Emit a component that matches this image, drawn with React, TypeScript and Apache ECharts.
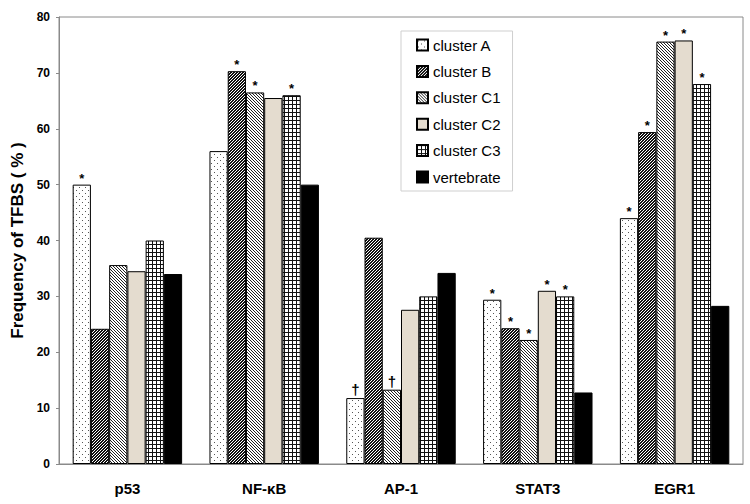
import React, { useEffect, useRef } from "react";
import * as echarts from "echarts";

const categories = ["p53", "NF-κB", "AP-1", "STAT3", "EGR1"];
const seriesNames = ["cluster A", "cluster B", "cluster C1", "cluster C2", "cluster C3", "vertebrate"];

const clusterA = [50, 56, 11.8, 29.4, 44];
const clusterB = [24.2, 70.3, 40.5, 24.3, 59.4];
const clusterC1 = [35.6, 66.5, 13.3, 22.2, 75.6];
const clusterC2 = [34.5, 65.5, 27.6, 31, 75.8];
const clusterC3 = [40, 66, 30, 30, 68];
const vertebrate = [34, 50, 34.2, 12.8, 28.3];

const marksA = ["*", "", "†", "*", "*"];
const marksB = ["", "*", "", "*", "*"];
const marksC1 = ["", "*", "†", "*", "*"];
const marksC2 = ["", "", "", "*", "*"];
const marksC3 = ["", "*", "", "*", "*"];
const marksV = ["", "", "", "", ""];

const yTicks = { min: 0, max: 80, interval: 10 };

function makePattern(w: number, h: number, bg: string, fg: string, pts: [number, number][]) {
  const c = document.createElement("canvas");
  c.width = w;
  c.height = h;
  const ctx = c.getContext("2d")!;
  ctx.fillStyle = bg;
  ctx.fillRect(0, 0, w, h);
  ctx.fillStyle = fg;
  pts.forEach(([x, y]) => ctx.fillRect(x, y, 1, 1));
  return { image: c, repeat: "repeat", imageWidth: w, imageHeight: h } as any;
}

const FONT = "Liberation Sans, Arial, sans-serif";

export default function App() {
  const ref = useRef<HTMLDivElement>(null);
  useEffect(() => {
    if (!ref.current) return;
    const chart = echarts.init(ref.current, null, { renderer: "svg" });

    const patA = makePattern(6, 6, "#ffffff", "#555555", [[1, 1], [4, 4]]);
    const patB = makePattern(3, 3, "#ffffff", "#111111", [
      [0, 2], [0, 0], [1, 1], [1, 2], [2, 0], [2, 1],
    ]);
    const patC1 = makePattern(3, 3, "#ffffff", "#222222", [[0, 0], [1, 1], [2, 2]]);
    const patC3 = makePattern(4, 4, "#ffffff", "#111111", [
      [0, 0], [1, 0], [2, 0], [3, 0], [0, 1], [0, 2], [0, 3],
    ]);
    const fills: any[] = [patA, patB, patC1, "#e4dccf", patC3, "#000000"];
    const values = [clusterA, clusterB, clusterC1, clusterC2, clusterC3, vertebrate];
    const marks = [marksA, marksB, marksC1, marksC2, marksC3, marksV];

    const series = seriesNames.map((name, i) => ({
      name,
      type: "bar",
      barGap: "0%",
      barCategoryGap: "20%",
      itemStyle: { color: fills[i], borderColor: "#000", borderWidth: 1 },
      data: values[i].map((v, j) => {
        const m = marks[i][j];
        return m
          ? {
              value: v,
              label: {
                show: true,
                position: "top",
                distance: m === "†" ? 1 : 0,
                formatter: m,
                color: "#000000",
                textBorderWidth: 0,
                fontWeight: "bold",
                fontSize: m === "†" ? 15 : 13,
                fontFamily: FONT,
              },
            }
          : v;
      }),
    }));

    chart.setOption({
      animation: false,
      backgroundColor: "#fff",
      grid: {
        left: 59,
        right: 7,
        top: 17,
        bottom: 40,
        show: true,
        borderColor: "#8a8a8a",
        borderWidth: 1,
      },
      legend: {
        orient: "vertical",
        left: 401,
        top: 31,
        icon: "rect",
        itemWidth: 11,
        itemHeight: 11,
        itemGap: 10.4,
        padding: [6, 12, 6, 15],
        borderColor: "#cfcfcf",
        borderWidth: 1,
        backgroundColor: "#fff",
        textStyle: {
          fontSize: 15,
          lineHeight: 16,
          color: "#000",
          fontFamily: FONT,
        },
        data: seriesNames,
      },
      xAxis: {
        type: "category",
        data: categories,
        axisLine: { lineStyle: { color: "#8a8a8a", width: 1 } },
        axisTick: { show: false },
        axisLabel: {
          margin: 17,
          fontSize: 15,
          fontWeight: "bold",
          color: "#000",
          fontFamily: FONT,
        },
      },
      yAxis: {
        type: "value",
        min: yTicks.min,
        max: yTicks.max,
        interval: yTicks.interval,
        name: "Frequency of TFBS ( % )",
        nameLocation: "middle",
        nameGap: 31,
        nameTextStyle: {
          fontSize: 17,
          fontWeight: "bold",
          color: "#000",
          fontFamily: FONT,
        },
        axisLine: { show: true, lineStyle: { color: "#8a8a8a", width: 1 } },
        axisTick: { show: true, length: 3, lineStyle: { color: "#8a8a8a" } },
        splitLine: { show: false },
        axisLabel: {
          margin: 9,
          fontSize: 12,
          fontWeight: "bold",
          color: "#000",
          fontFamily: FONT,
        },
      },
      series,
    });
    return () => chart.dispose();
  }, []);
  return <div ref={ref} style={{ width: 750, height: 504, position: "absolute", left: 0, top: 0 }} />;
}
